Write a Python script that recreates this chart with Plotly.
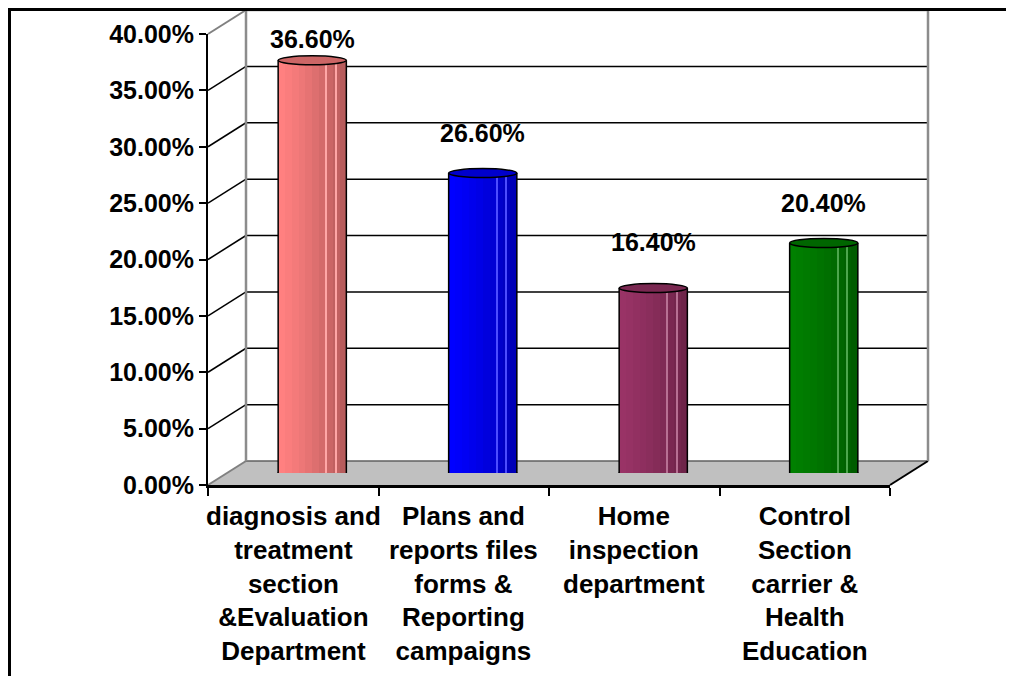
import plotly.graph_objects as go

# chart data
categories = [
    "diagnosis and<br>treatment<br>section<br>&Evaluation<br>Department",
    "Plans and<br>reports files<br>forms &<br>Reporting<br>campaigns",
    "Home<br>inspection<br>department",
    "Control<br>Section<br>carrier &<br>Health<br>Education",
]
values = [0.366, 0.266, 0.164, 0.204]
y_ticks = [0.0, 0.05, 0.10, 0.15, 0.20, 0.25, 0.30, 0.35, 0.40]

# styling
bar_colors = ["#FF8080", "#0000FF", "#993366", "#008000"]
label_gap = [21, 40, 46, 40]   # px above the cylinder top, as in the original
FONT = "Liberation Sans, Arial, sans-serif"

# the page body has an 8px margin, so the figure is sized to fit inside the window
PAGE_W, PAGE_H, BODY = 1014, 676, 8
W, H = PAGE_W - BODY, PAGE_H - BODY
YMAX = 0.4

# pseudo-3d geometry in window pixels (front plane, depth offset)
FX0, FX1, FY0, FY1 = 208, 890, 485, 34
DX, DY = 38, -24


def px(x):
    return (x - BODY) / W


def py(y):
    return 1 - (y - BODY) / H


def fy(v):
    return FY0 - v / YMAX * (FY0 - FY1)


def shade(hexcol, f):
    r, g, b = (int(hexcol[i:i + 2], 16) for i in (1, 3, 5))
    return "rgb(%d,%d,%d)" % (r * f, g * f, b * f)


def tint(hexcol, f):
    r, g, b = (int(hexcol[i:i + 2], 16) for i in (1, 3, 5))
    return "rgb(%d,%d,%d)" % (r + (255 - r) * f, g + (255 - g) * f, b + (255 - b) * f)


pos = list(range(len(values)))
bar_w = 0.40
hw = bar_w / 2

fig = go.Figure()

# cylinder bodies: vertical strips with darkening shade
n_strips = 10
for k in range(n_strips):
    f = 1.0 - 0.28 * (k / (n_strips - 1)) ** 1.3
    fig.add_trace(go.Bar(
        x=pos, y=values, xaxis="x3", yaxis="y3",
        width=bar_w / n_strips + 0.002, offset=-hw + k * bar_w / n_strips,
        marker=dict(color=[shade(c, f) for c in bar_colors], line=dict(width=0)),
        showlegend=False, hoverinfo="skip",
    ))

# facet highlight lines
for frac in (0.70, 0.84):
    fig.add_trace(go.Bar(
        x=pos, y=values, xaxis="x3", yaxis="y3",
        width=0.005, offset=-hw + frac * bar_w,
        marker=dict(color=[tint(c, 0.3) for c in bar_colors], line=dict(width=0)),
        showlegend=False, hoverinfo="skip",
    ))

# cylinder side outlines
ox, oy = [], []
for p, v in zip(pos, values):
    ox += [p - hw, p - hw, None, p + hw, p + hw, None]
    oy += [0, v, None, 0, v, None]
fig.add_trace(go.Scatter(x=ox, y=oy, xaxis="x3", yaxis="y3", mode="lines",
                         line=dict(color="black", width=1.5),
                         showlegend=False, hoverinfo="skip"))

d = 4.5 * YMAX / 450.5
shapes = []

# outer frame
shapes.append(dict(type="line", xref="paper", yref="paper", x0=px(9), x1=1, y0=py(9.5), y1=py(9.5),
                   line=dict(color="black", width=3)))
shapes.append(dict(type="line", xref="paper", yref="paper", x0=px(9.5), x1=px(9.5), y0=py(8), y1=0,
                   line=dict(color="black", width=3)))

# floor
floor = "M %f %f L %f %f L %f %f L %f %f Z" % (
    px(FX0), py(FY0), px(FX1), py(FY0), px(FX1 + DX), py(FY0 + DY), px(FX0 + DX), py(FY0 + DY))
shapes.append(dict(type="path", xref="paper", yref="paper", path=floor, layer="below",
                   fillcolor="#C0C0C0", line=dict(width=0)))
shapes.append(dict(type="line", xref="paper", yref="paper", layer="below",
                   x0=px(FX0 + DX), x1=px(FX1 + DX), y0=py(FY0 + DY), y1=py(FY0 + DY),
                   line=dict(color="#606060", width=1.5)))
shapes.append(dict(type="line", xref="paper", yref="paper", layer="below",
                   x0=px(FX1), x1=px(FX1 + DX), y0=py(FY0), y1=py(FY0 + DY),
                   line=dict(color="black", width=2)))

# back wall gridlines on the back-wall axis
for t in y_ticks[1:-1]:
    shapes.append(dict(type="line", xref="x2 domain", yref="y2", layer="below",
                       x0=0, x1=1, y0=t, y1=t, line=dict(color="black", width=1.5)))

# side wall diagonals at each tick
for t in y_ticks:
    edge = t in (0.0, YMAX)
    shapes.append(dict(type="line", xref="paper", yref="paper", layer="below",
                       x0=px(FX0), x1=px(FX0 + DX), y0=py(fy(t)), y1=py(fy(t) + DY),
                       line=dict(color="#808080" if edge else "black", width=2 if edge else 1.5)))

# back wall border
wall = "M %f %f L %f %f L %f %f L %f %f" % (
    px(FX0 + DX), py(FY0 + DY), px(FX0 + DX), py(FY1 + DY),
    px(FX1 + DX), py(FY1 + DY), px(FX1 + DX), py(FY0 + DY))
shapes.append(dict(type="path", xref="paper", yref="paper", path=wall, layer="below",
                   line=dict(color="#8C8C8C", width=2.5)))

# cylinder bottoms and tops
for p, v, c in zip(pos, values, bar_colors):
    shapes.append(dict(type="circle", xref="x3", yref="y3", layer="between",
                       x0=p - hw, x1=p + hw, y0=-d, y1=d,
                       fillcolor=shade(c, 0.9), line=dict(color="black", width=1.5)))
    shapes.append(dict(type="circle", xref="x3", yref="y3", layer="above",
                       x0=p - hw, x1=p + hw, y0=v - d, y1=v + d,
                       fillcolor=shade(c, 0.8), line=dict(color="black", width=1.5)))

annotations = []
for p, v, g in zip(pos, values, label_gap):
    annotations.append(dict(x=p, y=v, xref="x3", yref="y3", text="%.2f%%" % (v * 100),
                            showarrow=False, yanchor="middle", yshift=g,
                            font=dict(family=FONT, size=25, color="black", weight="bold")))
for p, cat in zip(pos, categories):
    annotations.append(dict(x=p, y=py(499), xref="x", yref="paper", text=cat,
                            showarrow=False, yanchor="top", align="center",
                            font=dict(family=FONT, size=26, color="black", weight="bold")))

rng = [-0.5, len(values) - 0.5]
fig.update_layout(
    width=W, height=H,
    margin=dict(l=0, r=0, t=0, b=0, pad=0, autoexpand=False),
    paper_bgcolor="white", plot_bgcolor="rgba(0,0,0,0)",
    barmode="overlay", bargap=0,
    showlegend=False,
    shapes=shapes, annotations=annotations,
    # front axes
    xaxis=dict(domain=[px(FX0), px(FX1)], range=rng, anchor="y", automargin=False,
               tickvals=[i - 0.5 for i in range(len(values) + 1)], ticktext=[""] * (len(values) + 1),
               ticks="outside", ticklen=8, tickwidth=2, tickcolor="black",
               showline=True, linecolor="black", linewidth=2.5, showgrid=False, zeroline=False),
    yaxis=dict(domain=[py(FY0), py(FY1)], range=[0, YMAX], anchor="x", automargin=False,
               tickvals=y_ticks, tickformat=".2%",
               ticks="outside", ticklen=7, tickwidth=2, tickcolor="black",
               showline=True, linecolor="black", linewidth=2, showgrid=False, zeroline=False,
               tickfont=dict(family=FONT, size=25, color="black", weight="bold")),
    # back wall
    xaxis2=dict(domain=[px(FX0 + DX), px(FX1 + DX)], range=rng, anchor="y2", visible=False,
                automargin=False),
    yaxis2=dict(domain=[py(FY0 + DY), py(FY1 + DY)], range=[0, YMAX], anchor="x2", visible=False,
                automargin=False),
    # mid depth plane for cylinders
    xaxis3=dict(domain=[px(FX0 + DX / 2), px(FX1 + DX / 2)], range=rng, anchor="y3", visible=False,
                automargin=False),
    yaxis3=dict(domain=[py(FY0 + DY / 2), py(FY1 + DY / 2)], range=[0, YMAX], anchor="x3",
                visible=False, automargin=False),
)

fig.write_html("out.html")
